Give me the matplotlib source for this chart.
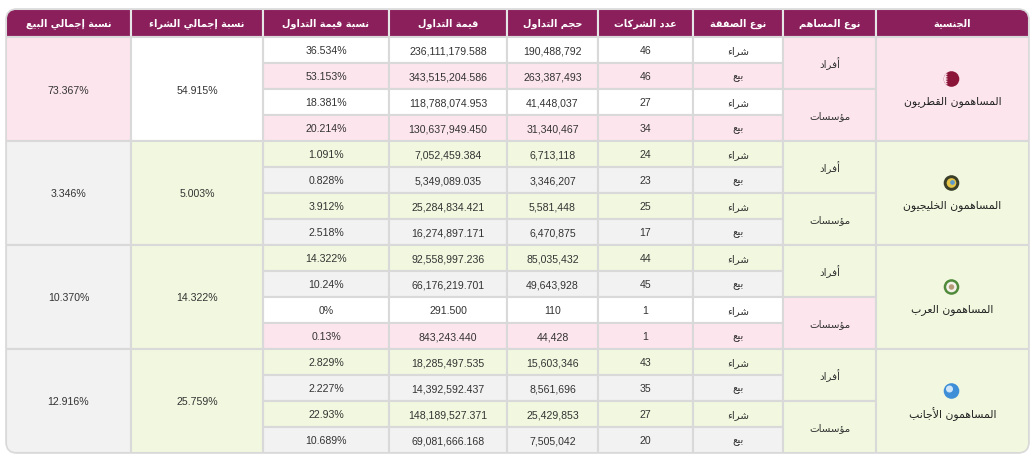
import numpy as np
import matplotlib
matplotlib.use("Agg")
import matplotlib.pyplot as plt
from matplotlib.patches import Rectangle, FancyBboxPatch, Circle, Polygon

# ---- data -------------------------------------------------------------
headers = ["نسبة إجمالي البيع", "نسبة إجمالي الشراء", "نسبة قيمة التداول",
           "قيمة التداول", "حجم التداول", "عدد الشركات", "نوع الصفقة",
           "نوع المساهم", "الجنسية"]

nationalities = ["المساهمون القطريون", "المساهمون الخليجيون",
                 "المساهمون العرب", "المساهمون الأجانب"]
investor_types = ["أفراد", "مؤسسات"]
trade_types = ["شراء", "بيع"]

companies = [46, 46, 27, 34, 24, 23, 25, 17, 44, 45, 1, 1, 43, 35, 27, 20]
volume = [190488792, 263387493, 41448037, 31340467,
          6713118, 3346207, 5581448, 6470875,
          85035432, 49643928, 110, 44428,
          15603346, 8561696, 25429853, 7505042]
value = [236111179.588, 343515204.586, 118788074.953, 130637949.450,
         7052459.384, 5349089.035, 25284834.421, 16274897.171,
         92558997.236, 66176219.701, 291.500, 843243.440,
         18285497.535, 14392592.437, 148189527.371, 69081666.168]
value_pct = [36.534, 53.153, 18.381, 20.214,
             1.091, 0.828, 3.912, 2.518,
             14.322, 10.24, 0, 0.13,
             2.829, 2.227, 22.93, 10.689]
total_buy_pct = [54.915, 5.003, 14.322, 25.759]
total_sell_pct = [73.367, 3.346, 10.370, 12.916]

# ---- styles -----------------------------------------------------------
HEAD = "#8b1f5c"
W, P, G, GY = "#ffffff", "#fde5ed", "#f1f8df", "#f2f2f2"
LINE = "#d9d9d9"
TXT = "#333333"

row_bg = [W, P, W, P, G, GY, G, GY, G, GY, W, P, G, GY, G, GY]
inv_bg = [P, P, G, G, G, P, G, G]
nat_bg = [P, G, G, G]
sell_bg = [P, GY, GY, GY]
buy_bg = [W, G, G, G]

col_edges = [6, 131, 263, 389, 507, 598, 693, 783, 876, 1029]
top, head_h, row_h = 10, 28, 26

# ---- minimal arabic shaping (matplotlib has no complex text layout) ---
DUAL = {'ئ': 0xFE89, 'ب': 0xFE8F, 'ت': 0xFE95, 'ث': 0xFE99, 'ج': 0xFE9D,
        'ح': 0xFEA1, 'خ': 0xFEA5, 'س': 0xFEB1, 'ش': 0xFEB5, 'ص': 0xFEB9,
        'ض': 0xFEBD, 'ط': 0xFEC1, 'ظ': 0xFEC5, 'ع': 0xFEC9, 'غ': 0xFECD,
        'ف': 0xFED1, 'ق': 0xFED5, 'ك': 0xFED9, 'ل': 0xFEDD, 'م': 0xFEE1,
        'ن': 0xFEE5, 'ه': 0xFEE9, 'ي': 0xFEF1}
RIGHT = {'آ': 0xFE81, 'أ': 0xFE83, 'ؤ': 0xFE85, 'إ': 0xFE87, 'ا': 0xFE8D,
         'ة': 0xFE93, 'د': 0xFEA9, 'ذ': 0xFEAB, 'ر': 0xFEAD, 'ز': 0xFEAF,
         'و': 0xFEED, 'ى': 0xFEEF}
LAM_ALEF = {'ا': 0xFEFB, 'أ': 0xFEF7, 'إ': 0xFEF9, 'آ': 0xFEF5}


def shape(text):
    toks = []
    i = 0
    while i < len(text):
        c = text[i]
        if c == 'ل' and i + 1 < len(text) and text[i + 1] in LAM_ALEF:
            toks.append(('R', LAM_ALEF[text[i + 1]]))
            i += 2
            continue
        if c in DUAL:
            toks.append(('D', DUAL[c]))
        elif c in RIGHT:
            toks.append(('R', RIGHT[c]))
        elif c == 'ء':
            toks.append(('N', 0xFE80))
        else:
            toks.append(('X', c))
        i += 1
    out = []
    for k, (kind, base) in enumerate(toks):
        if kind == 'X':
            out.append(base)
            continue
        if kind == 'N':
            out.append(chr(base))
            continue
        prev = k > 0 and toks[k - 1][0] == 'D'
        nxt = (kind == 'D' and k + 1 < len(toks)
               and toks[k + 1][0] in ('D', 'R'))
        if kind == 'D':
            off = 3 if (prev and nxt) else 2 if nxt else 1 if prev else 0
        else:
            off = 1 if prev else 0
        out.append(chr(base + off))
    return ''.join(reversed(out))


# ---- figure -----------------------------------------------------------
fig = plt.figure(figsize=(10.34, 4.64), dpi=100)
ax = fig.add_axes([0, 0, 1, 1])
ax.set_xlim(0, 1034)
ax.set_ylim(464, 0)
ax.axis('off')

n_rows = len(companies)
bottom = top + head_h + n_rows * row_h
frame = FancyBboxPatch((col_edges[0], top), col_edges[-1] - col_edges[0],
                       bottom - top, boxstyle="round,pad=0,rounding_size=11",
                       facecolor='none', edgecolor=LINE, linewidth=1.2,
                       zorder=5)
ax.add_patch(frame)


def cell(c0, c1, y0, h, color, ec=LINE):
    r = Rectangle((col_edges[c0], y0), col_edges[c1] - col_edges[c0], h,
                  facecolor=color, edgecolor=ec, linewidth=1.5, zorder=1)
    ax.add_patch(r)
    r.set_clip_path(frame)
    return ((col_edges[c0] + col_edges[c1]) / 2, y0 + h / 2)


def num_text(xy, s):
    ax.text(xy[0], xy[1] + 0.5, s, ha='center', va='center', fontsize=7.6,
            family='Liberation Sans', color=TXT, zorder=3)


def ar_text(xy, s, **kw):
    opts = dict(ha='center', va='center', fontsize=7.4, family='DejaVu Sans',
                color=TXT, zorder=3)
    opts.update(kw)
    ax.text(xy[0], xy[1], shape(s), **opts)


# header
for j, h in enumerate(headers):
    xy = cell(j, j + 1, top, head_h, HEAD, ec="#e6e6e6")
    ar_text((xy[0], xy[1] - 0.5), h, color='white', fontweight='bold',
            fontsize=7.0)

y0 = top + head_h
for i in range(n_rows):
    y = y0 + i * row_h
    num_text(cell(2, 3, y, row_h, row_bg[i]), f"{value_pct[i]:g}%")
    num_text(cell(3, 4, y, row_h, row_bg[i]), f"{value[i]:,.3f}")
    num_text(cell(4, 5, y, row_h, row_bg[i]), f"{volume[i]:,}")
    num_text(cell(5, 6, y, row_h, row_bg[i]), f"{companies[i]}")
    ar_text(cell(6, 7, y, row_h, row_bg[i]), trade_types[i % 2])

for k in range(n_rows // 2):
    y = y0 + k * 2 * row_h
    ar_text(cell(7, 8, y, 2 * row_h, inv_bg[k]), investor_types[k % 2])


def icon(kind, cx, cy, bg):
    r = 7.8
    if kind == 0:
        disc = Circle((cx, cy), r, facecolor="#8a1538", edgecolor='none',
                      zorder=4)
        ax.add_patch(disc)
        # serrated white band on the hoist side
        zy = np.linspace(cy - r, cy + r, 19)
        zx = cx - r * 0.45 + np.where(np.arange(19) % 2 == 0, 0, -2.4)
        pts = np.vstack([[cx - r - 1, cy - r - 1],
                         np.column_stack([zx, zy]),
                         [cx - r - 1, cy + r + 1]])
        band = Polygon(pts, closed=True, facecolor=bg, edgecolor='none',
                       zorder=4.5)
        ax.add_patch(band)
        band.set_clip_path(disc)
    elif kind == 1:
        ax.add_patch(Circle((cx, cy), r, facecolor="#3b3f2a", zorder=4))
        ax.add_patch(Circle((cx, cy), r * 0.62, facecolor="#e5c548", zorder=4))
        ax.add_patch(Circle((cx + 1, cy - 0.5), r * 0.3, facecolor="#5d9ad0",
                            zorder=4))
    elif kind == 2:
        ax.add_patch(Circle((cx, cy), r, facecolor="#4f8a3a", zorder=4))
        ax.add_patch(Circle((cx, cy), r * 0.68, facecolor="#f4f1ea", zorder=4))
        ax.add_patch(Circle((cx, cy), r * 0.35, facecolor="#b59a7a", zorder=4))
    else:
        ax.add_patch(Circle((cx, cy), r, facecolor="#3f8fd8", zorder=4))
        ax.add_patch(Circle((cx - 2, cy - 2), r * 0.45, facecolor="#cfe6fa",
                            zorder=4))


for g in range(len(nationalities)):
    y = y0 + g * 4 * row_h
    cx, cy = cell(8, 9, y, 4 * row_h, nat_bg[g])
    icon(g, cx - 1, cy - 10, nat_bg[g])
    ar_text((cx, cy + 12), nationalities[g], fontsize=7.8, color="#222222")
    num_text(cell(0, 1, y, 4 * row_h, sell_bg[g]), f"{total_sell_pct[g]:.3f}%")
    num_text(cell(1, 2, y, 4 * row_h, buy_bg[g]), f"{total_buy_pct[g]:.3f}%")

fig.savefig("out.png", dpi=100, facecolor='white')
